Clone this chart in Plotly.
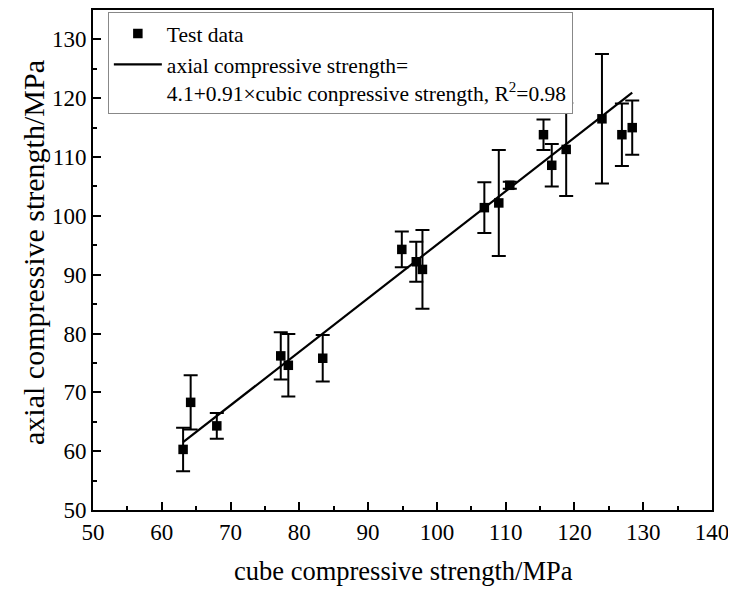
import plotly.graph_objects as go

cube_strength = [63.1, 64.2, 68.0, 77.3, 78.4, 83.4, 94.9, 97.0, 97.9, 106.9, 109.0, 110.6,
                 115.5, 116.7, 118.8, 124.0, 126.9, 128.4]
axial_strength = [60.3, 68.3, 64.3, 76.2, 74.6, 75.8, 94.3, 92.2, 90.9, 101.4, 102.2, 105.2,
                  113.8, 108.6, 111.3, 116.5, 113.8, 115.0]
axial_error = [3.7, 4.6, 2.2, 4.0, 5.3, 3.95, 3.05, 3.4, 6.7, 4.3, 9.0, 0.6,
               2.6, 3.6, 7.9, 11.0, 5.3, 4.6]

fit_intercept = 4.1
fit_slope = 0.91
fit_x = [min(cube_strength), max(cube_strength)]
fit_y = [fit_intercept + fit_slope * v for v in fit_x]

x_ticks = [50, 60, 70, 80, 90, 100, 110, 120, 130, 140]
y_ticks = [50, 60, 70, 80, 90, 100, 110, 120, 130]

x_title = "cube compressive strength/MPa"
y_title = "axial compressive strength/MPa"

FONT = "Liberation Serif"

fig = go.Figure()
fig.add_trace(go.Scatter(
    x=cube_strength, y=axial_strength, mode="markers", name="Test data",
    marker=dict(symbol="square", size=9.5, color="black"),
    error_y=dict(type="data", array=axial_error, visible=True, color="black",
                 thickness=2, width=7),
))
fig.add_trace(go.Scatter(
    x=fit_x, y=fit_y, mode="lines",
    name="axial compressive strength=<br>4.1+0.91×cubic conpressive strength, R<sup>2</sup>=0.98",
    line=dict(color="black", width=2.2),
))

axis_common = dict(
    showline=True, linecolor="black", linewidth=2, mirror=True,
    ticks="inside", ticklen=8, tickwidth=2, tickcolor="black",
    showgrid=False, zeroline=False, automargin=False,
    tickfont=dict(family=FONT, size=23, color="black"),
)

fig.update_xaxes(range=[50, 140], tickvals=x_ticks,
                 minor=dict(ticks="inside", ticklen=4, dtick=5, tickcolor="black", tickwidth=2),
                 **axis_common)
fig.update_yaxes(range=[50, 135], tickvals=y_ticks,
                 minor=dict(ticks="inside", ticklen=4, dtick=5, tickcolor="black", tickwidth=2),
                 **axis_common)

fig.add_annotation(text=x_title, xref="paper", yref="paper", x=0.501, y=-0.122,
                   xanchor="center", yanchor="middle", showarrow=False,
                   font=dict(family=FONT, size=26.5, color="black"))
fig.add_annotation(text=y_title, xref="paper", yref="paper", x=-0.097, y=0.516,
                   xanchor="center", yanchor="middle", showarrow=False, textangle=-90,
                   font=dict(family=FONT, size=30, color="black"))

fig.update_layout(
    width=736, height=590,
    margin=dict(l=85, r=32, t=2, b=88),
    plot_bgcolor="white", paper_bgcolor="white",
    showlegend=True,
    legend=dict(
        x=0.024, y=0.996, xanchor="left", yanchor="top",
        bordercolor="#888888", borderwidth=1, bgcolor="white",
        font=dict(family=FONT, size=21.5, color="black"),
        valign="top", tracegroupgap=0, itemwidth=48,
    ),
)

fig.write_html("out.html")
